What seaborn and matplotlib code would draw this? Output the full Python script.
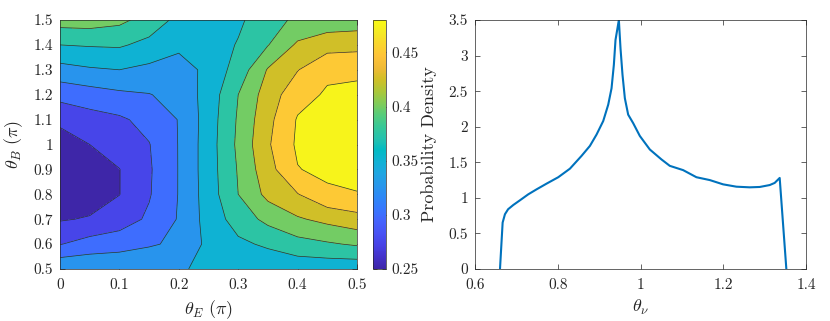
import numpy as np
import pandas as pd
import matplotlib
matplotlib.use('Agg')
import matplotlib.pyplot as plt
import seaborn as sns
from matplotlib.colors import LinearSegmentedColormap, Normalize
from matplotlib.cm import ScalarMappable

# left panel: grid of the contour field (rows = theta_B, cols = theta_E)
theta_E = [0.0, 0.05, 0.1, 0.15, 0.2, 0.25, 0.3, 0.35, 0.4, 0.45, 0.5]
theta_B = [0.5, 0.6, 0.7, 0.8, 0.9, 1.0, 1.1, 1.2, 1.3, 1.4, 1.5]
field = [
    [0.347, 0.347, 0.348, 0.348, 0.349, 0.352, 0.355, 0.357, 0.358, 0.358, 0.357],
    [0.299, 0.310, 0.314, 0.322, 0.330, 0.356, 0.370, 0.379, 0.391, 0.397, 0.403],
    [0.273, 0.277, 0.288, 0.304, 0.327, 0.360, 0.386, 0.407, 0.422, 0.432, 0.441],
    [0.258, 0.263, 0.2745, 0.298, 0.326, 0.362, 0.400, 0.432, 0.449, 0.470, 0.474],
    [0.255, 0.261, 0.2745, 0.297, 0.326, 0.363, 0.402, 0.441, 0.474, 0.481, 0.482],
    [0.262, 0.275, 0.287, 0.299, 0.326, 0.363, 0.405, 0.447, 0.479, 0.484, 0.486],
    [0.281, 0.290, 0.296, 0.308, 0.326, 0.362, 0.403, 0.443, 0.477, 0.483, 0.485],
    [0.308, 0.314, 0.320, 0.324, 0.333, 0.360, 0.400, 0.437, 0.466, 0.478, 0.480],
    [0.341, 0.347, 0.350, 0.344, 0.336, 0.358, 0.385, 0.427, 0.449, 0.470, 0.471],
    [0.375, 0.377, 0.378, 0.368, 0.357, 0.360, 0.377, 0.399, 0.429, 0.440, 0.442],
    [0.411, 0.412, 0.406, 0.390, 0.368, 0.360, 0.370, 0.392, 0.404, 0.410, 0.412],
]
levels = [0.25, 0.275, 0.3, 0.325, 0.35, 0.375, 0.4, 0.425, 0.45, 0.475, 0.5]
cbar_ticks = [0.25, 0.3, 0.35, 0.4, 0.45]
cbar_labels = ['0.25', '0.3', '0.35', '0.4', '0.45']
xticks_left = [0, 0.1, 0.2, 0.3, 0.4, 0.5]
xlabels_left = ['0', '0.1', '0.2', '0.3', '0.4', '0.5']
yticks_left = [0.5, 0.6, 0.7, 0.8, 0.9, 1.0, 1.1, 1.2, 1.3, 1.4, 1.5]
ylabels_left = ['0.5', '0.6', '0.7', '0.8', '0.9', '1', '1.1', '1.2', '1.3', '1.4', '1.5']

# right panel: probability density curve
theta_nu = [0.6604, 0.6668, 0.6724, 0.680, 0.6926, 0.7087, 0.7288, 0.7489, 0.773,
            0.8012, 0.8294, 0.8575, 0.8777, 0.8938, 0.9099, 0.922, 0.930, 0.9356,
            0.9396, 0.9477, 0.9517, 0.9565, 0.9622, 0.9702, 0.9823, 0.9984, 1.0225,
            1.0507, 1.0708, 1.103, 1.1352, 1.1674, 1.1996, 1.2318, 1.264, 1.2881,
            1.3123, 1.3243, 1.3364, 1.3525]
density = [0.0, 0.653, 0.77, 0.84, 0.90, 0.966, 1.05, 1.12, 1.20,
           1.29, 1.41, 1.59, 1.73, 1.89, 2.08, 2.31, 2.54, 2.87,
           3.22, 3.50, 3.10, 2.73, 2.40, 2.17, 2.05, 1.87, 1.68,
           1.54, 1.45, 1.39, 1.29, 1.25, 1.19, 1.157, 1.148, 1.153,
           1.18, 1.21, 1.28, 0.0]
xticks_right = [0.6, 0.8, 1.0, 1.2, 1.4]
xlabels_right = ['0.6', '0.8', '1', '1.2', '1.4']
yticks_right = [0, 0.5, 1, 1.5, 2, 2.5, 3, 3.5]
ylabels_right = ['0', '0.5', '1', '1.5', '2', '2.5', '3', '3.5']

# parula-like colormap
parula_anchors = [
    (0.2422, 0.1504, 0.6603), (0.2647, 0.1978, 0.7952), (0.2783, 0.2559, 0.8991),
    (0.2810, 0.3228, 0.9579), (0.2699, 0.3892, 0.9906), (0.2206, 0.4603, 0.9973),
    (0.1786, 0.5289, 0.9682), (0.1540, 0.5902, 0.9218), (0.1248, 0.6459, 0.8883),
    (0.0689, 0.6948, 0.8394), (0.0067, 0.7312, 0.7660), (0.1408, 0.7584, 0.6842),
    (0.2161, 0.7843, 0.5923), (0.3406, 0.8008, 0.4789), (0.5044, 0.7993, 0.3480),
    (0.6720, 0.7793, 0.2227), (0.8203, 0.7498, 0.1535), (0.9393, 0.7288, 0.2100),
    (0.9970, 0.7659, 0.2199), (0.9786, 0.8386, 0.1766), (0.9597, 0.9135, 0.1423),
    (0.9769, 0.9839, 0.0805)]
parula = LinearSegmentedColormap.from_list('parula', parula_anchors)
cmin, cmax = 0.25, 0.48

sns.set_theme(style='white')
plt.rcParams['font.family'] = ['serif']
plt.rcParams['font.serif'] = ['cmr10', 'DejaVu Serif']
plt.rcParams['mathtext.fontset'] = 'cm'
plt.rcParams['axes.formatter.use_mathtext'] = True
axcol = '#262626'

fig = plt.figure(figsize=(8.3, 3.21), dpi=100)
ax1 = fig.add_axes([60 / 830, 52 / 321, 297 / 830, 249 / 321])
cax = fig.add_axes([373 / 830, 52 / 321, 13 / 830, 249 / 321])
ax2 = fig.add_axes([475 / 830, 52 / 321, 331 / 830, 249 / 321])

# contour map
band_colors = [parula((lv - cmin) / (cmax - cmin)) for lv in levels[:-1]]
ax1.contourf(theta_E, theta_B, field, levels=levels, colors=band_colors)
ax1.contour(theta_E, theta_B, field, levels=levels[1:-1], colors='#303030', linewidths=0.5)
ax1.set_xlim(0, 0.5)
ax1.set_ylim(0.5, 1.5)
ax1.set_xticks(xticks_left)
ax1.set_xticklabels(xlabels_left)
ax1.set_yticks(yticks_left)
ax1.set_yticklabels(ylabels_left)
ax1.set_xlabel(r'$\theta_E\ (\pi)$', fontsize=13, color=axcol, labelpad=4)
ax1.set_ylabel(r'$\theta_B\ (\pi)$', fontsize=13, color=axcol, labelpad=6)

cb = fig.colorbar(ScalarMappable(norm=Normalize(cmin, cmax), cmap=parula), cax=cax)
cb.set_ticks(cbar_ticks)
cb.set_ticklabels(cbar_labels)
cb.outline.set_linewidth(0.5)
cb.outline.set_edgecolor(axcol)
cax.tick_params(direction='in', length=3, width=0.5, labelsize=11, colors=axcol,
                left=True, right=True, pad=4)

# density curve
df = pd.DataFrame({'theta': theta_nu, 'density': density})
sns.lineplot(data=df, x='theta', y='density', ax=ax2, color='#0072BD', linewidth=1.5)
ax2.set_xlim(0.6, 1.4)
ax2.set_ylim(0, 3.5)
ax2.set_xticks(xticks_right)
ax2.set_xticklabels(xlabels_right)
ax2.set_yticks(yticks_right)
ax2.set_yticklabels(ylabels_right)
ax2.set_xlabel(r'$\theta_\nu$', fontsize=13, color=axcol, labelpad=4)
ax2.set_ylabel('Probability Density', fontsize=13, color=axcol, labelpad=8)

for ax in (ax1, ax2):
    ax.tick_params(direction='in', length=3.5, width=0.5, labelsize=11, colors=axcol,
                   top=True, right=True, bottom=True, left=True)
    ax.tick_params(axis='x', pad=7)
    ax.tick_params(axis='y', pad=5)
    for sp in ax.spines.values():
        sp.set_linewidth(0.5)
        sp.set_edgecolor(axcol)
        sp.set_visible(True)

fig.savefig('out.png', dpi=100)
